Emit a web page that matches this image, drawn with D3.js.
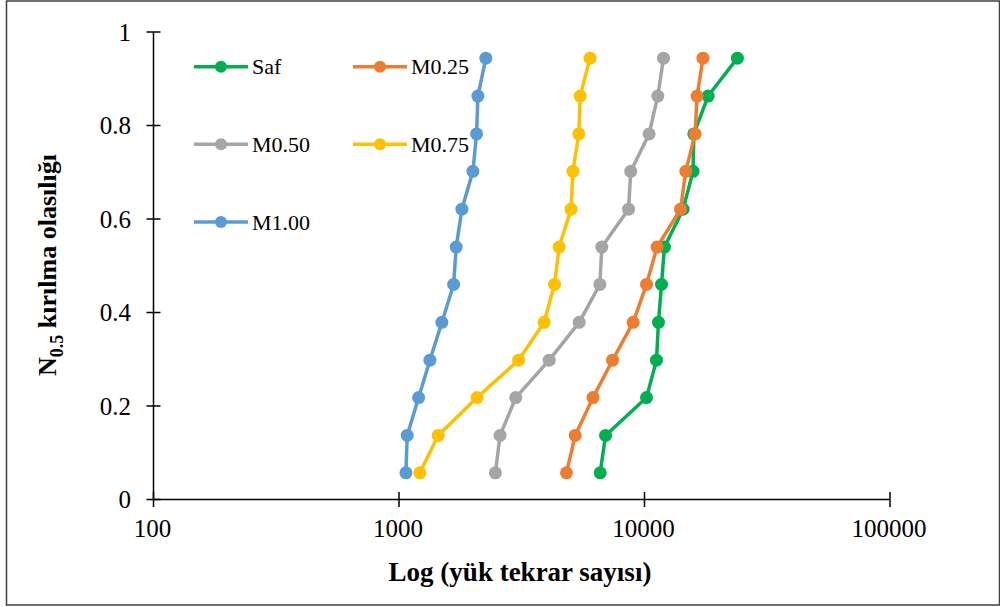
<!DOCTYPE html>
<html lang="tr">
<head>
<meta charset="utf-8">
<title>N0.5 kirilma olasiligi</title>
<script src="https://cdn.jsdelivr.net/npm/d3@7"></script>
<style>
  body { margin: 0; background: #fff; }
  text { font-family: "Liberation Serif", "Times New Roman", serif; }
</style>
</head>
<body>
<svg width="1000" height="607"></svg>
<script>
// probability levels (median rank) shared by all series
var probs = [0.057, 0.137, 0.218, 0.298, 0.379, 0.460, 0.540, 0.621, 0.702, 0.782, 0.863, 0.944];

var seriesNames = ["Saf", "M0.25", "M0.50", "M0.75", "M1.00"];
var seriesColors = ["#00B050", "#ED7D31", "#A5A5A5", "#FFC000", "#5B9BD5"];

// load cycles
var saf  = [6600, 6940, 10190, 11190, 11400, 11730, 12060, 14360, 15770, 15880, 18160, 23900];
var m025 = [4810, 5220, 6170, 7410, 8990, 10190, 11250, 14020, 14730, 16070, 16380, 17300];
var m050 = [2470, 2580, 2990, 4090, 5420, 6580, 6700, 8610, 8790, 10440, 11330, 11950];
var m075 = [1216, 1444, 2080, 3070, 3900, 4300, 4490, 5020, 5110, 5400, 5470, 6000];
var m100 = [1067, 1080, 1202, 1336, 1495, 1669, 1710, 1804, 2000, 2070, 2096, 2258];
var seriesValues = [saf, m025, m050, m075, m100];

var xTicks = [100, 1000, 10000, 100000];
var yTicks = [0, 0.2, 0.4, 0.6, 0.8, 1];

var svg = d3.select("svg");

// outer chart border
svg.append("rect")
  .attr("x", 6.5).attr("y", 1)
  .attr("width", 993).attr("height", 604)
  .attr("fill", "none").attr("stroke", "#404040").attr("stroke-width", 1.5);

var x = d3.scaleLog().domain([100, 100000]).range([153.5, 890]);
var y = d3.scaleLinear().domain([0, 1]).range([499.5, 32]);

// y axis
var yAxis = svg.append("g");
yAxis.append("line")
  .attr("x1", x(100)).attr("x2", x(100))
  .attr("y1", y(0)).attr("y2", y(1))
  .attr("stroke", "#000").attr("stroke-width", 1.5);
yAxis.selectAll(".yt").data(yTicks).enter().append("line")
  .attr("x1", x(100) - 7).attr("x2", x(100) + 7)
  .attr("y1", d => y(d)).attr("y2", d => y(d))
  .attr("stroke", "#000").attr("stroke-width", 1.5);
yAxis.selectAll(".yl").data(yTicks).enter().append("text")
  .attr("x", 131).attr("y", d => y(d))
  .attr("dy", "0.35em")
  .attr("text-anchor", "end")
  .style("font-size", "25px")
  .text(d => d3.format("")(d));

// x axis
var xAxis = svg.append("g");
xAxis.append("line")
  .attr("x1", x(100)).attr("x2", x(100000))
  .attr("y1", y(0)).attr("y2", y(0))
  .attr("stroke", "#000").attr("stroke-width", 1.5);
xAxis.selectAll(".xt").data(xTicks).enter().append("line")
  .attr("x1", d => x(d)).attr("x2", d => x(d))
  .attr("y1", y(0) - 7.5).attr("y2", y(0) + 7.5)
  .attr("stroke", "#000").attr("stroke-width", 1.5);
xAxis.selectAll(".xl").data(xTicks).enter().append("text")
  .attr("x", d => x(d) - 1).attr("y", 537)
  .attr("text-anchor", "middle")
  .style("font-size", "25px")
  .text(d => d);

// axis titles
svg.append("text")
  .attr("x", 520).attr("y", 581)
  .attr("text-anchor", "middle")
  .style("font-size", "27px").style("font-weight", "bold")
  .text("Log (yük tekrar sayısı)");

var yt = svg.append("text")
  .attr("transform", "translate(56,265) rotate(-90)")
  .attr("text-anchor", "middle")
  .style("font-size", "26px").style("font-weight", "bold");
yt.append("tspan").text("N");
yt.append("tspan").attr("dy", 7).style("font-size", "18px").text("0.5");
yt.append("tspan").attr("dy", -7).text(" kırılma olasılığı");

// series
var line = d3.line().x(d => x(d[0])).y(d => y(d[1]));
seriesValues.forEach(function (vals, i) {
  var pts = vals.map((v, j) => [v, probs[j]]);
  var g = svg.append("g");
  g.append("path")
    .datum(pts)
    .attr("d", line)
    .attr("fill", "none")
    .attr("stroke", seriesColors[i])
    .attr("stroke-width", 3.5)
    .attr("stroke-linejoin", "round");
  g.selectAll("circle").data(pts).enter().append("circle")
    .attr("cx", d => x(d[0])).attr("cy", d => y(d[1]))
    .attr("r", 6.5)
    .attr("fill", seriesColors[i]);
});

// legend
var legPos = [[194, 66.7], [353, 66.7], [194, 144.3], [353, 144.3], [194, 222]];
var leg = svg.selectAll(".leg").data(seriesNames).enter().append("g")
  .attr("transform", (d, i) => "translate(" + legPos[i][0] + "," + legPos[i][1] + ")");
leg.append("line")
  .attr("x1", 0).attr("x2", 54).attr("y1", 0).attr("y2", 0)
  .attr("stroke", (d, i) => seriesColors[i]).attr("stroke-width", 3.5);
leg.append("circle")
  .attr("cx", 27).attr("cy", 0).attr("r", 6)
  .attr("fill", (d, i) => seriesColors[i]);
leg.append("text")
  .attr("x", 58).attr("y", 0).attr("dy", "0.35em")
  .style("font-size", "22px")
  .text(d => d);
</script>
</body>
</html>
